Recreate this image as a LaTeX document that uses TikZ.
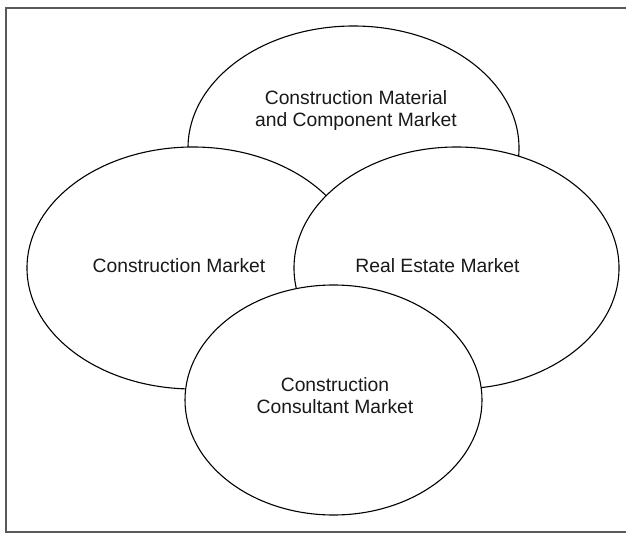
\documentclass[tikz,border=0pt]{standalone}
\usepackage{fontspec}
\setmainfont{Liberation Sans}
\begin{document}
\begin{tikzpicture}[x=1pt,y=-1pt,
  market/.style={draw=black, fill=white, line width=1.1pt},
  label/.style={font=\fontsize{19.3}{22}\selectfont, align=center, inner sep=0pt, text=black!90},
  frame/.style={draw=black!65, line width=1.2pt}]
\useasboundingbox (0,0) rectangle (626,534);
\draw[frame] (640,8) -- (6,8) -- (6,532) -- (640,532);
% ellipses, drawn back to front
\path[market] (353.5,148) ellipse [x radius=165.5pt, y radius=122pt];
\path[market] (193,268) ellipse [x radius=166pt, y radius=121pt];
\path[market] (456.5,268) ellipse [x radius=162.5pt, y radius=121pt];
\path[market] (333.5,400) ellipse [x radius=148.5pt, y radius=115pt];
% labels
\node[label] (mat) at (356,111) {Construction Material\\and Component Market};
\node[label] (con) at (179,266) {Construction Market};
\node[label] (est) at (437.5,266) {Real Estate Market};
\node[label] (cons) at (335,396) {Construction\\Consultant Market};
\end{tikzpicture}
\end{document}
